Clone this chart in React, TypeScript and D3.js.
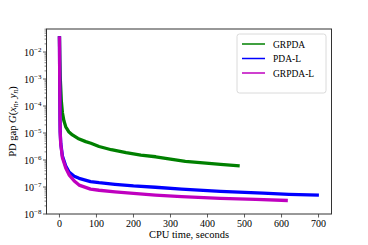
import React from 'react'
import * as d3 from 'd3'

// values, as log10 of the PD gap
const tGreen = [0, 1, 2, 3, 5, 8, 12, 17, 25, 35, 50, 71, 85, 107, 140, 180, 220, 260, 300, 340, 380, 435, 487]
const logGreen = [-1.42, -2.3, -2.9, -3.2, -3.8, -4.25, -4.55, -4.77, -4.95, -5.07, -5.2, -5.32, -5.38, -5.5, -5.62, -5.73, -5.82, -5.88, -5.97, -6.05, -6.1, -6.16, -6.22]

const tBlue = [0, 0.5, 1, 1.5, 2, 3.5, 8, 17, 26, 40, 53, 84, 107, 150, 200, 259, 330, 435, 550, 620, 701]
const logBlue = [-1.42, -2.5, -3.6, -4.5, -4.95, -5.38, -5.85, -6.22, -6.45, -6.6, -6.68, -6.8, -6.84, -6.9, -6.96, -7.01, -7.08, -7.16, -7.23, -7.27, -7.3]

const tMag = [0, 0.5, 1, 1.5, 2, 3.5, 8, 17, 26, 40, 53, 84, 107, 150, 200, 259, 330, 435, 530, 617]
const logMag = [-1.42, -2.6, -3.7, -4.55, -5.0, -5.42, -5.92, -6.3, -6.55, -6.78, -6.93, -7.08, -7.12, -7.18, -7.24, -7.3, -7.36, -7.42, -7.46, -7.5]

const seriesNames = ['GRPDA', 'PDA-L', 'GRPDA-L']
const seriesColors = ['#008000', '#0000ff', '#bf00bf']
const xTicks = [0, 100, 200, 300, 400, 500, 600, 700]
const yExps = [-8, -7, -6, -5, -4, -3, -2]

export default function App() {
  const W = 368, H = 245
  const m = { left: 46.5, right: 331.5, top: 29, bottom: 214 }
  const x = d3.scaleLinear().domain([-35, 735]).range([m.left, m.right])
  const y = d3.scaleLog().domain([1e-8, Math.pow(10, -1.148)]).range([m.bottom, m.top])
  const font = "'Liberation Serif', 'Times New Roman', serif"

  const series = [
    { t: tGreen, v: logGreen },
    { t: tBlue, v: logBlue },
    { t: tMag, v: logMag },
  ].map((s, i) => ({
    pts: s.t.map((t, j) => [t, Math.pow(10, s.v[j])] as [number, number]),
    color: seriesColors[i],
    name: seriesNames[i],
  }))

  const line = d3.line<[number, number]>().x(d => x(d[0])).y(d => y(d[1]))

  const minor: number[] = []
  for (let e = -8; e < -1; e++) {
    for (let k = 2; k < 10; k++) {
      const v = k * Math.pow(10, e)
      if (v < y.domain()[1]) minor.push(v)
    }
  }

  return (
    <svg width={W} height={H} style={{ position: 'absolute', left: 0, top: 0, background: '#fff', fontFamily: font }}>
      <defs>
        <clipPath id="plot">
          <rect x={m.left} y={m.top} width={m.right - m.left} height={m.bottom - m.top} />
        </clipPath>
      </defs>
      <g clipPath="url(#plot)">
        {series.map(s => (
          <path key={s.name} d={line(s.pts) || ''} fill="none" stroke={s.color} strokeWidth={3.3} strokeLinejoin="round" />
        ))}
      </g>
      <rect x={m.left} y={m.top} width={m.right - m.left} height={m.bottom - m.top} fill="none" stroke="#333" strokeWidth={1} />
      {xTicks.map(t => (
        <g key={t}>
          <line x1={x(t)} x2={x(t)} y1={m.bottom} y2={m.bottom + 3.5} stroke="#333" strokeWidth={0.8} />
          <text x={x(t)} y={m.bottom + 13} fontSize={10} textAnchor="middle">{t}</text>
        </g>
      ))}
      {minor.map((v, i) => (
        <line key={i} x1={m.left - 2} x2={m.left} y1={y(v)} y2={y(v)} stroke="#333" strokeWidth={0.6} />
      ))}
      {yExps.map(e => (
        <g key={e}>
          <line x1={m.left - 3.5} x2={m.left} y1={y(Math.pow(10, e))} y2={y(Math.pow(10, e))} stroke="#333" strokeWidth={0.8} />
          <text x={m.left - 5} y={y(Math.pow(10, e)) + 3.5} fontSize={10} textAnchor="end">
            10<tspan fontSize={7} dy={-4}>{'\u2212' + Math.abs(e)}</tspan>
          </text>
        </g>
      ))}
      <text x={(m.left + m.right) / 2} y={238} fontSize={10.5} textAnchor="middle">CPU time, seconds</text>
      <text transform={`translate(16,${(m.top + m.bottom) / 2}) rotate(-90)`} fontSize={10.5} textAnchor="middle">
        PD gap <tspan fontStyle="italic">G</tspan>(<tspan fontStyle="italic">x</tspan>
        <tspan fontSize={7.5} dy={2} fontStyle="italic">n</tspan>
        <tspan dy={-2}>, </tspan><tspan fontStyle="italic">y</tspan>
        <tspan fontSize={7.5} dy={2} fontStyle="italic">n</tspan>
        <tspan dy={-2}>)</tspan>
      </text>
      <g>
        <rect x={237} y={34} width={89} height={59} rx={2.5} fill="#fff" fillOpacity={0.8} stroke="#d0d0d0" strokeWidth={0.8} />
        {series.map((s, i) => (
          <g key={s.name}>
            <line x1={242} x2={265} y1={44 + i * 14.5} y2={44 + i * 14.5} stroke={s.color} strokeWidth={1.5} />
            <text x={273} y={44 + i * 14.5 + 3.5} fontSize={9.5}>{s.name}</text>
          </g>
        ))}
      </g>
    </svg>
  )
}
